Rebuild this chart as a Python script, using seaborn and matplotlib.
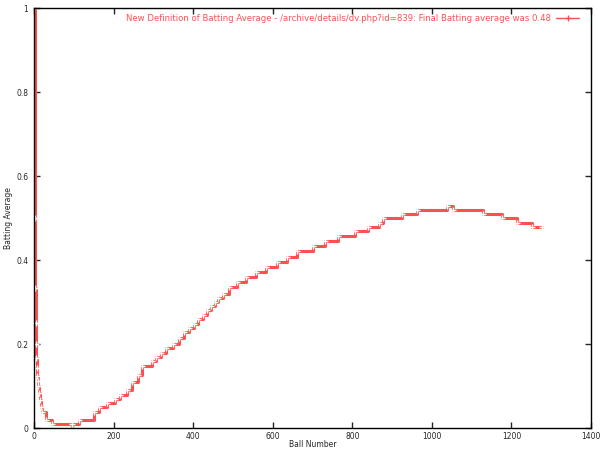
import numpy as np
import pandas as pd
import seaborn as sns
from matplotlib import pyplot as plt
from matplotlib.lines import Line2D

# ------------------------------------------------- #
# batting average, read off the picture as plateaus:
# ball number where each plateau starts, and its value
balls = [1, 2, 3, 4, 5, 6, 7, 8, 9, 10, 12, 14, 17, 20, 30, 46, 95, 96,
         114, 151, 163, 183, 204, 216, 234, 246, 262, 272, 296, 306, 318,
         332, 350, 364, 378, 390, 402, 412, 424, 436, 446, 455, 462, 475,
         490, 510, 532, 558, 582, 610, 636, 661, 700, 731, 764, 806, 840,
         868, 877, 925, 962, 1038, 1053, 1129, 1177, 1215, 1252, 1277]
averages = [1.0, 0.5, 0.333, 0.25, 0.2, 0.167, 0.143, 0.125, 0.111, 0.1,
            0.083, 0.067, 0.05, 0.038, 0.019, 0.01, 0.0, 0.01,
            0.019, 0.038, 0.05, 0.06, 0.069, 0.079, 0.09, 0.11, 0.126,
            0.148, 0.16, 0.17, 0.179, 0.19, 0.2, 0.214, 0.228, 0.238, 0.248,
            0.26, 0.269, 0.28, 0.29, 0.3, 0.31, 0.32, 0.336, 0.348, 0.36,
            0.371, 0.383, 0.395, 0.407, 0.421, 0.433, 0.445, 0.457, 0.469,
            0.478, 0.489, 0.5, 0.51, 0.519, 0.529, 0.519, 0.51, 0.5, 0.489,
            0.478, 0.478]
x_ticks = [0, 200, 400, 600, 800, 1000, 1200, 1400]
y_ticks = [0, 0.2, 0.4, 0.6, 0.8, 1.0]
y_tick_labels = ["0", "0.2", "0.4", "0.6", "0.8", "1"]
legend_label = ("New Definition of Batting Average - /archive/details/dv.php?id=839: "
                "Final Batting average was 0.48")
# ------------------------------------------------- #

df = pd.DataFrame({"ball": balls, "avg": averages})

sns.set_style("white")
plt.rcParams["font.family"] = ["DejaVu Sans"]

fig = plt.figure(figsize=(6, 4.5), dpi=100)
ax = fig.add_axes([34 / 600, 1 - 428 / 450, 557 / 600, 420 / 450])

red = "#ff5050"
sns.lineplot(data=df, x="ball", y="avg", ax=ax, estimator=None,
             drawstyle="steps-post", color=red, linewidth=2.2,
             marker="+", markersize=4, markeredgewidth=1, legend=False)

ax.set_xlim(0, 1400)
ax.set_ylim(0, 1)
ax.set_xticks(x_ticks)
ax.set_xticklabels([str(t) for t in x_ticks])
ax.set_yticks(y_ticks)
ax.set_yticklabels(y_tick_labels)
ax.tick_params(direction="in", length=4, width=1, labelsize=5.5,
               top=True, right=True, bottom=True, left=True)
ax.tick_params(axis="x", pad=3)
ax.tick_params(axis="y", pad=4)
for s in ax.spines.values():
    s.set_color("black")
    s.set_linewidth(1)

ax.set_xlabel("Ball Number", fontsize=5.5)
ax.xaxis.set_label_coords(0.5, -0.028)
ax.set_ylabel("Batting Average", fontsize=5.5)
ax.yaxis.set_label_coords(-0.038, 0.5)

# gnuplot-style key: thin line with a + in the middle
handle = Line2D([], [], color=red, linewidth=1, marker="+",
                markersize=4, markevery=[1])
handle.set_data([0, 1, 2], [0, 0, 0])
ax.legend([handle], [legend_label], loc="upper right", frameon=False,
          fontsize=6.1, labelcolor=red, handlelength=2.8, markerfirst=False,
          borderaxespad=0.3, numpoints=1, handletextpad=0.6,
          bbox_to_anchor=(0.99, 1.0))

plt.savefig("out.png", dpi=100)
